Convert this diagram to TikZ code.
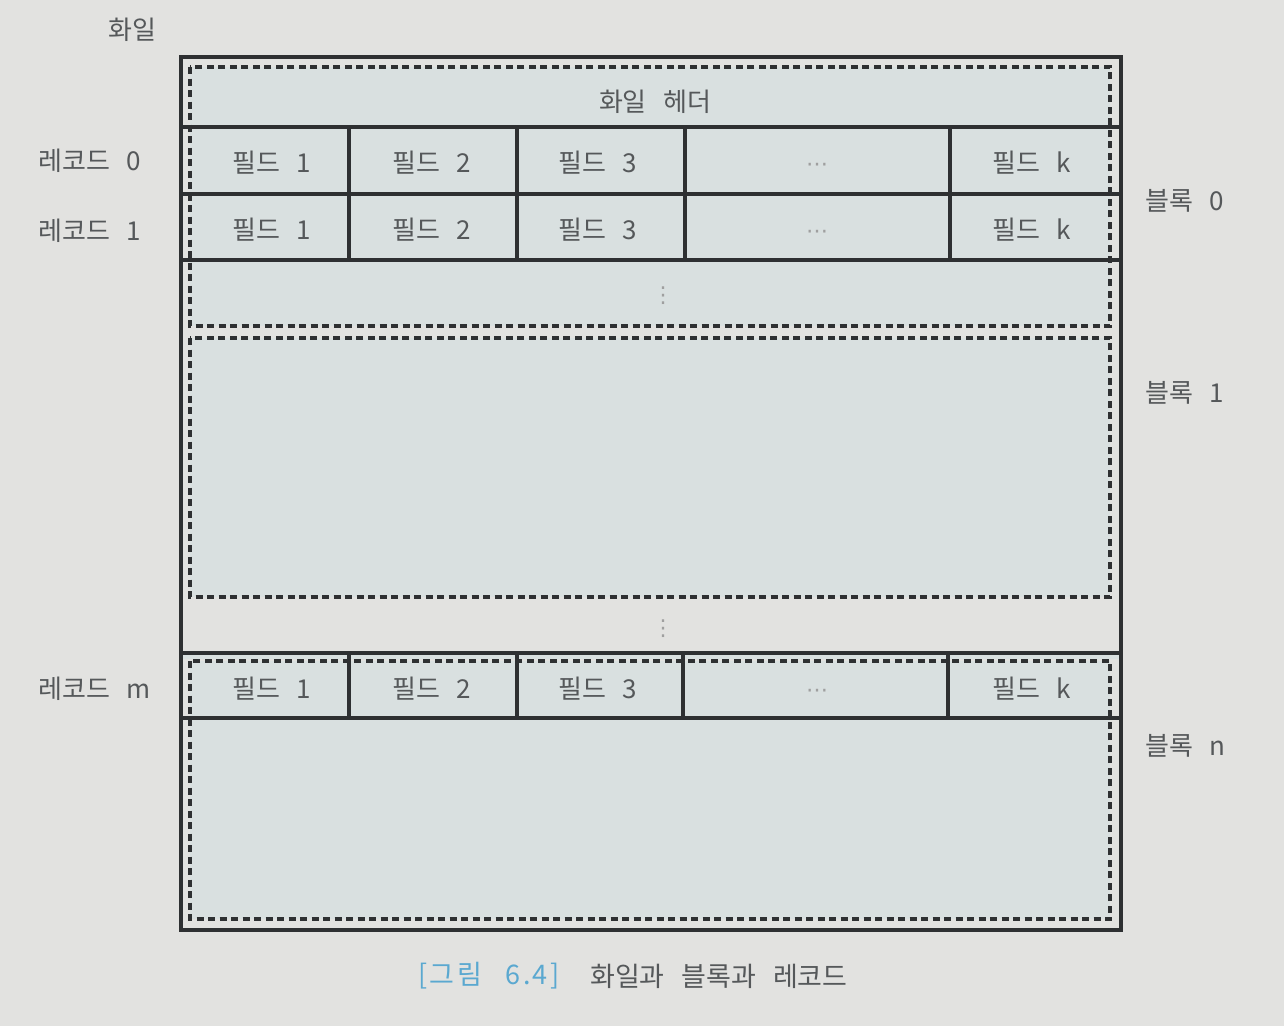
\documentclass[tikz,border=0pt]{standalone}
\usepackage{fontspec}
\setmainfont{Noto Sans CJK KR}[WordSpace=2.8]
\newfontfamily\numfont{Noto Sans CJK KR}[WordSpace=2.8, LetterSpace=9]
\newfontfamily\symfont{DejaVu Sans}

\definecolor{fondgris}{HTML}{E2E2E0}
\definecolor{fondbloc}{HTML}{D9E0E0}
\definecolor{trait}{HTML}{2E3032}
\definecolor{texte}{HTML}{55585A}
\definecolor{legende}{HTML}{5AA8D0}

\tikzset{
  lab/.style={text=texte, font=\fontsize{26}{30}\selectfont, inner sep=0pt},
  legtxt/.style={font=\fontsize{27}{32}\selectfont, inner sep=0pt, anchor=west},
  blocpt/.style={draw=trait, line width=3.2pt, dash pattern=on 7pt off 4.5pt, fill=fondbloc},
  plein/.style={draw=trait, line width=3.6pt},
  pts/.style={text=gray!75, font=\symfont\fontsize{22}{24}\selectfont, inner sep=0pt}
}

\begin{document}
\begin{tikzpicture}[x=1pt,y=-1pt]
  \useasboundingbox[fill=fondgris] (0,0) rectangle (1284,1026);

% Blocs
  \foreach \ya/\yb in {67/326, 338/597, 661/919}
    \path[blocpt] (190,\ya) rectangle (1110,\yb);
  \fill[fondbloc] (183,655) rectangle (1119,659);

% Fichier et enregistrements
  \draw[plein] (181,57) rectangle (1121,930);
  \foreach \y in {127,194,260,653,718}
    \draw[plein] (181,\y) -- (1121,\y);
  \foreach \x in {349,517,685,950}
    \draw[plein] (\x,127) -- (\x,260);
  \foreach \x in {349,517,683,948}
    \draw[plein] (\x,653) -- (\x,718);

% Champs
  \node[lab] (entete) at (655,102) {화일 헤더};
  \foreach \r/\y in {0/163, 1/230, m/689} {
    \node[lab] (ch1-\r) at (272,\y) {필드 1};
    \node[lab] (ch2-\r) at (432,\y) {필드 2};
    \node[lab] (ch3-\r) at (598,\y) {필드 3};
    \node[pts] (chx-\r) at (817,\y+4) {⋯};
    \node[lab] (chk-\r) at (1032,\y) {필드 k};
  }
  \node[pts] (suite0) at (663,296) {⋮};
  \node[pts] (suite1) at (663,629) {⋮};

% Labels
  \node[lab, anchor=west] (fichier) at (108,30) {화일};
  \node[lab, anchor=west] (rec0) at (38,161) {레코드 0};
  \node[lab, anchor=west] (rec1) at (38,231) {레코드 1};
  \node[lab, anchor=west] (recm) at (38,689) {레코드 m};
  \node[lab, anchor=west] (bloc0) at (1145,201) {블록 0};
  \node[lab, anchor=west] (bloc1) at (1145,393) {블록 1};
  \node[lab, anchor=west] (blocn) at (1145,746) {블록 n};

% Legende
  \node[legtxt, text=legende, font=\numfont\fontsize{27}{32}\selectfont] (numfig) at (418,976) {[그림 6.4]};
  \node[legtxt, text=texte] (titre) at (590,976) {화일과 블록과 레코드};

\end{tikzpicture}
\end{document}
